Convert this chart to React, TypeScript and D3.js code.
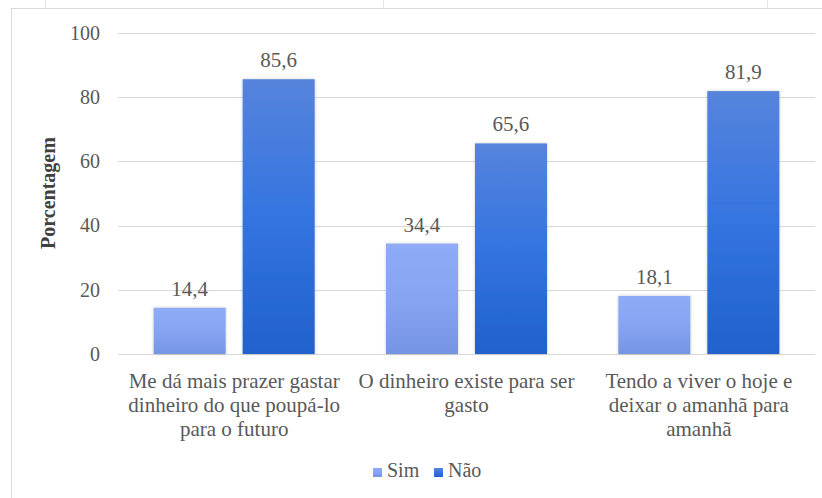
import React from "react";
import * as d3 from "d3";

const categories = [
  "Me dá mais prazer gastar dinheiro do que poupá-lo para o futuro",
  "O dinheiro existe para ser gasto",
  "Tendo a viver o hoje e deixar o amanhã para amanhã",
];
const categoryLines = [
  ["Me dá mais prazer gastar", "dinheiro do que poupá-lo", "para o futuro"],
  ["O dinheiro existe para ser", "gasto"],
  ["Tendo a viver o hoje e", "deixar o amanhã para", "amanhã"],
];
const seriesNames = ["Sim", "Não"];
const simValues = [14.4, 34.4, 18.1];
const naoValues = [85.6, 65.6, 81.9];
const yTicks = [0, 20, 40, 60, 80, 100];
const yLabel = "Porcentagem";

const W = 822;
const H = 498;
const FONT = '"Liberation Serif", "Times New Roman", serif';
const TEXT = "#595959";
const GRID = "#d9d9d9";

export default function App() {
  const x0 = d3
    .scaleBand<string>()
    .domain(categories)
    .range([118, 815])
    .paddingInner(0.307)
    .paddingOuter(0.1535);
  const x1 = d3
    .scaleBand<string>()
    .domain(seriesNames)
    .range([0, x0.bandwidth()])
    .paddingInner(0.191)
    .paddingOuter(0);
  const y = d3.scaleLinear().domain([0, 100]).range([354, 33]);

  const rows = categories.map((c, i) => ({
    cat: c,
    lines: categoryLines[i],
    vals: [
      { s: "Sim", v: simValues[i] },
      { s: "Não", v: naoValues[i] },
    ],
  }));

  const fmt = (v: number) => d3.format(".1f")(v).replace(".", ",");
  const txt = (size: number) =>
    ({ fontFamily: FONT, fontSize: `${size}px`, fill: TEXT } as React.CSSProperties);

  return (
    <svg
      width={W}
      height={H}
      viewBox={`0 0 ${W} ${H}`}
      style={{ position: "absolute", left: 0, top: 0, background: "#fff", fontFamily: FONT }}
    >
      <defs>
        <linearGradient id="gSim" x1="0" y1="0" x2="0" y2="1">
          <stop offset="0" stopColor="#8fabf6" />
          <stop offset="0.5" stopColor="#86a4f2" />
          <stop offset="1" stopColor="#7594e4" />
        </linearGradient>
        <linearGradient id="gNao" x1="0" y1="0" x2="0" y2="1">
          <stop offset="0" stopColor="#5684dc" />
          <stop offset="0.5" stopColor="#3474e0" />
          <stop offset="1" stopColor="#2161cb" />
        </linearGradient>
        <filter id="shadow" x="-20%" y="-20%" width="140%" height="140%">
          <feDropShadow dx="0" dy="0" stdDeviation="1.4" floodColor="#000" floodOpacity="0.22" />
        </filter>
      </defs>

      {/* sheet frame */}
      <line x1={11} x2={W} y1={8.5} y2={8.5} stroke={GRID} />
      <line x1={11.5} x2={11.5} y1={8} y2={H} stroke={GRID} />
      {[45, 383, 767].map((tx) => (
        <line key={tx} x1={tx + 0.5} x2={tx + 0.5} y1={0} y2={8} stroke="#e4e4e4" />
      ))}

      {/* gridlines and y ticks */}
      {yTicks.map((t) => (
        <g key={t}>
          <line
            x1={118}
            x2={815}
            y1={Math.round(y(t)) + 0.5}
            y2={Math.round(y(t)) + 0.5}
            stroke={GRID}
            strokeWidth={1}
          />
          <text x={100} y={y(t)} dy="0.34em" textAnchor="end" style={txt(20)}>
            {t}
          </text>
        </g>
      ))}

      <text
        transform={`translate(55,193) rotate(-90)`}
        textAnchor="middle"
        style={{ fontFamily: FONT, fontSize: "20px", fontWeight: "bold", fill: "#404040" }}
      >
        {yLabel}
      </text>

      {/* bars */}
      {rows.map((r) => (
        <g key={r.cat} transform={`translate(${x0(r.cat)},0)`}>
          {r.vals.map((d) => (
            <g key={d.s}>
              <rect
                x={x1(d.s)}
                y={y(d.v)}
                width={x1.bandwidth()}
                height={y(0) - y(d.v)}
                fill={d.s === "Sim" ? "url(#gSim)" : "url(#gNao)"}
                filter="url(#shadow)"
              />
              <text
                x={(x1(d.s) as number) + x1.bandwidth() / 2}
                y={y(d.v) - 12}
                textAnchor="middle"
                style={txt(21)}
              >
                {fmt(d.v)}
              </text>
            </g>
          ))}
          {r.lines.map((ln, i) => (
            <text key={i} x={x0.bandwidth() / 2} y={388 + i * 24} textAnchor="middle" style={txt(21)}>
              {ln}
            </text>
          ))}
        </g>
      ))}

      {/* legend */}
      {seriesNames.map((s, i) => {
        const lx = i === 0 ? 373 : 434;
        return (
          <g key={s}>
            <rect
              x={lx}
              y={468}
              width={9}
              height={9}
              fill={s === "Sim" ? "url(#gSim)" : "url(#gNao)"}
            />
            <text x={lx + 14} y={477} style={txt(20)}>
              {s}
            </text>
          </g>
        );
      })}
    </svg>
  );
}
